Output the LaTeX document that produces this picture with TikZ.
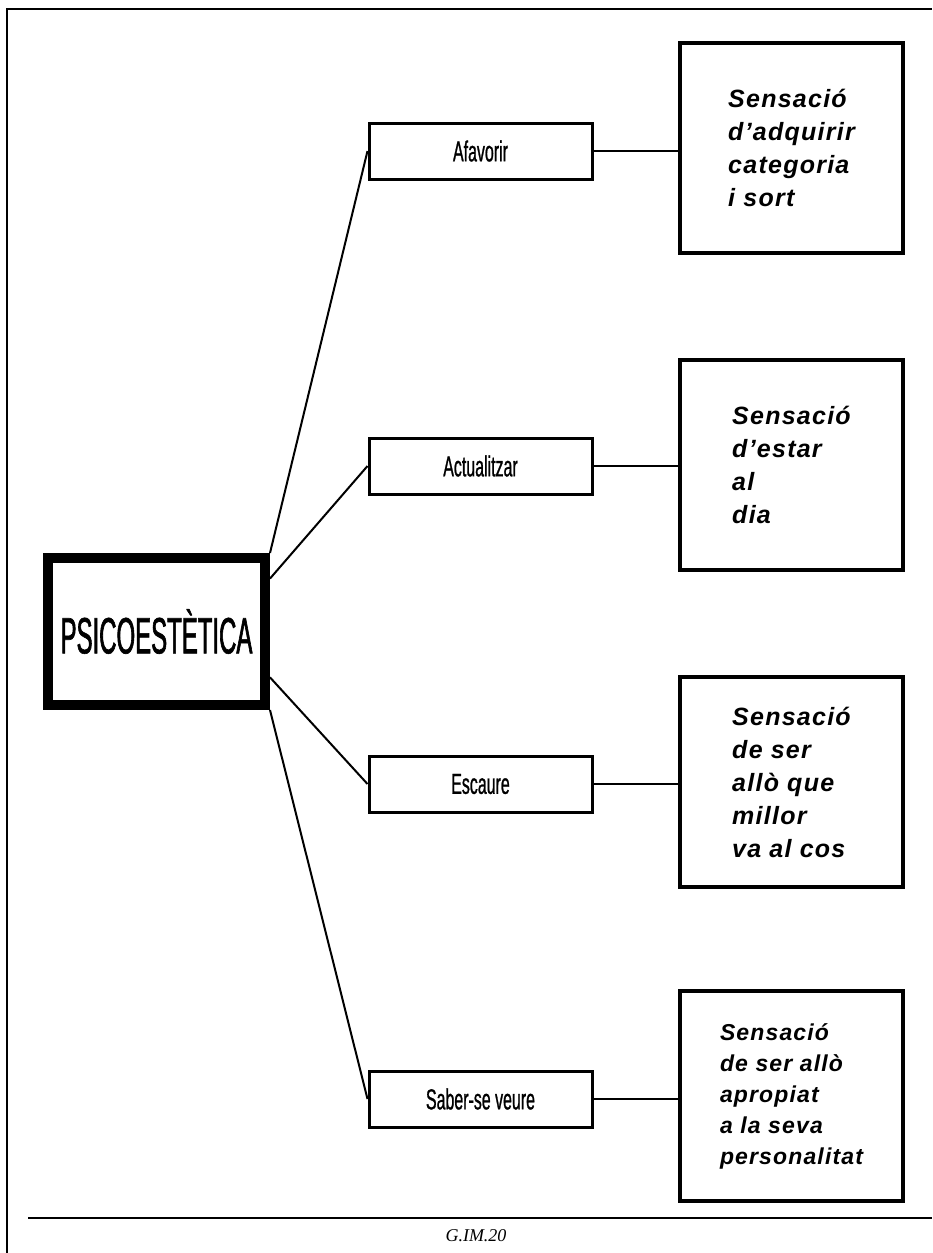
\documentclass[tikz,border=0pt]{standalone}
\usepackage{fontspec}
\setmainfont{Liberation Sans}
\newfontfamily\narrowfont[FakeStretch=0.55, FakeBold=0.8]{Liberation Sans}
\newfontfamily\titlefont[FakeStretch=0.47, FakeBold=1.2]{Liberation Sans}
\newfontfamily\sensfont[LetterSpace=5]{Liberation Sans}
\newfontfamily\footfont{Liberation Serif}
\usetikzlibrary{positioning}

\begin{document}
\begin{tikzpicture}[x=1pt, y=-1pt,
  topic/.style={draw, line width=10pt, minimum width=217pt, minimum height=147pt,
    inner sep=0pt, font=\titlefont\fontsize{51}{51}\selectfont},
  verb/.style={draw, line width=3pt, minimum width=223pt, minimum height=56pt,
    inner sep=0pt, font=\narrowfont\fontsize{29}{29}\selectfont},
  feeling/.style={draw, line width=4pt, minimum width=223pt, minimum height=210pt,
    inner sep=0pt, align=left, font=\sensfont\bfseries\itshape\fontsize{25}{33}\selectfont},
  link/.style={line width=2pt}]
  \useasboundingbox (0,0) rectangle (932,1253);
  % page frame and foot rule
  \draw[line width=2pt] (7,1253) -- (7,9) -- (932,9);
  \draw[line width=2.5pt] (28,1218) -- (932,1218);
  \node[font=\footfont\itshape\fontsize{18}{18}\selectfont] (ref) at (476,1236) {G.IM.20};

  \node[topic] (topic) at (156.5,631.5) {PSICOESTÈTICA};

  \node[verb] (fav)  at (480.5,151) {Afavorir};
  \node[verb] (upd)  at (480.5,466) {Actualitzar};
  \node[verb] (fit)  at (480.5,784) {Escaure};
  \node[verb] (self) at (480.5,1099) {Saber-se veure};

  \node[feeling] (sfav)  at (791.5,148) {Sensació\\d’adquirir\\categoria\\i sort};
  \node[feeling] (supd)  at (791.5,465) {Sensació\\d’estar\\al\\dia};
  \node[feeling] (sfit)  at (791.5,782) {Sensació\\de ser\\allò que\\millor\\va al cos};
  \node[feeling, font=\sensfont\bfseries\itshape\fontsize{23}{31}\selectfont]
    (sself) at (791.5,1096) {Sensació\\de ser allò\\apropiat\\a la seva\\personalitat};

  % branches
  \draw[link] (topic.north east) -- (fav.west);
  \draw[link] (topic.25) -- (upd.west);
  \draw[link] (topic.-22) -- (fit.west);
  \draw[link] (topic.south east) -- (self.west);

  \draw[link] (fav.east) -- (sfav.west |- fav.east);
  \draw[link] (upd.east) -- (supd.west |- upd.east);
  \draw[link] (fit.east) -- (sfit.west |- fit.east);
  \draw[link] (self.east) -- (sself.west |- self.east);
\end{tikzpicture}
\end{document}
